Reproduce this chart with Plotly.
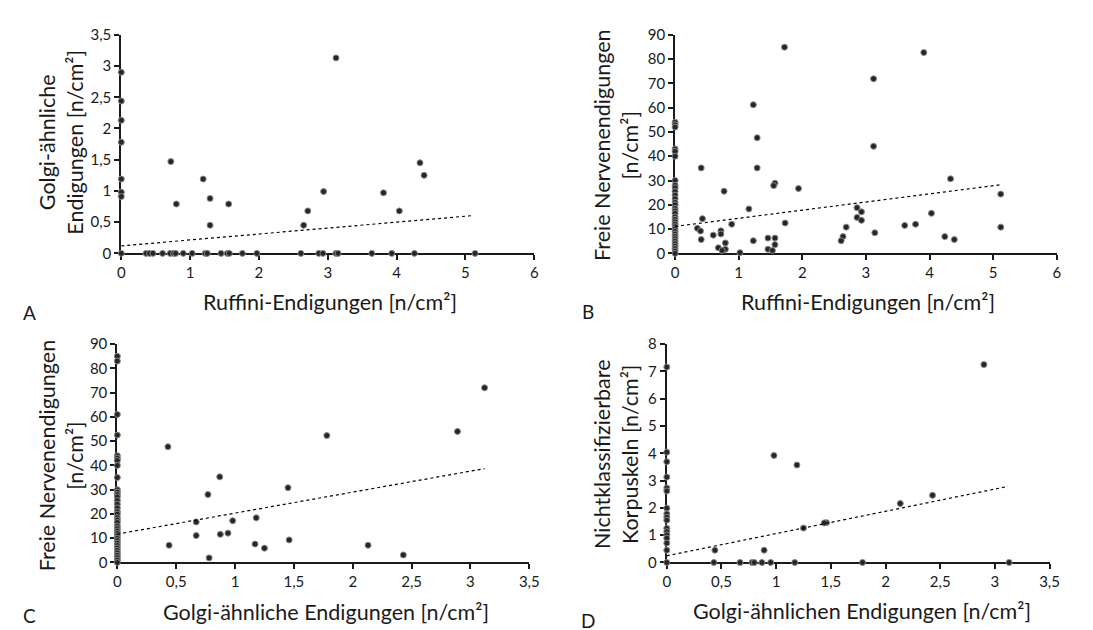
import plotly.graph_objects as go

# ---------------- data ----------------
# Panel A: Ruffini (x) vs Golgi-ähnliche (y)
a_x = [0, 0, 0, 0, 0, 0, 0, 0.72, 0.80, 1.19, 1.29, 1.29, 1.56, 2.65, 2.71, 2.94, 3.12, 3.81, 4.04, 4.34, 4.40,
       0, 0.36, 0.41, 0.46, 0.60, 0.71, 0.76, 0.79, 0.90, 1.03, 1.22, 1.25, 1.45, 1.54, 1.57, 1.76, 1.97,
       2.61, 2.87, 2.93, 3.12, 3.15, 3.64, 3.93, 4.26, 5.14]
a_y = [2.90, 2.44, 2.13, 1.78, 1.19, 0.98, 0.91, 1.47, 0.79, 1.19, 0.88, 0.45, 0.79, 0.45, 0.68, 0.99, 3.13, 0.97, 0.68, 1.45, 1.25,
       0, 0, 0, 0, 0, 0, 0, 0, 0, 0, 0, 0, 0, 0, 0, 0, 0,
       0, 0, 0, 0, 0, 0, 0, 0, 0]

# Panel B: Ruffini (x) vs Freie Nervenendigungen (y)
b_x = [1.72, 3.91, 3.12, 1.23, 1.29, 3.12, 0.41, 1.29, 4.33, 1.57, 1.55, 1.94, 0.77, 5.12, 2.86, 1.16, 2.93, 4.03,
       2.86, 0.43, 2.93, 1.73, 0.89, 3.78, 3.61, 2.69, 5.12, 0.35, 0.40, 0.72, 0.72, 3.14, 0.60, 2.64, 4.24, 1.46,
       1.57, 0.41, 1.23, 4.39, 2.61, 0.79, 1.57, 0.68, 0.79, 1.46, 0.74, 1.53, 1.02,
       0, 0, 0, 0, 0, 0, 0, 0, 0, 0, 0, 0, 0, 0, 0, 0, 0, 0, 0, 0, 0, 0, 0, 0, 0, 0, 0, 0, 0, 0, 0, 0, 0]
b_y = [84.9, 82.7, 71.9, 61.2, 47.6, 44.1, 35.2, 35.2, 30.7, 28.9, 27.9, 26.7, 25.6, 24.4, 18.8, 18.3, 17.1, 16.5,
       14.8, 14.3, 13.6, 12.5, 12.0, 12.0, 11.5, 10.8, 10.8, 10.3, 9.2, 9.3, 8.0, 8.5, 7.5, 6.9, 6.9, 6.3,
       6.3, 5.7, 5.2, 5.7, 5.2, 4.3, 3.6, 2.3, 1.7, 1.7, 1.2, 1.2, 0.3,
       54.0, 53.0, 52.0, 43.0, 42.0, 40.0, 30.0, 28.0, 27.0, 25.5, 24.0, 22.5, 21.0, 20.0, 18.5, 17.5, 16.5,
       15.0, 14.0, 13.0, 12.0, 11.0, 10.0, 9.0, 8.0, 7.0, 6.0, 5.0, 4.0, 3.0, 2.0, 1.0, 0.0]

# Panel C: Golgi-ähnliche (x) vs Freie Nervenendigungen (y)
c_x = [3.12, 2.89, 1.78, 0.43, 0.87, 1.45, 0.77, 1.18, 0.67, 0.98, 0.94, 0.875, 0.67, 1.46, 1.17, 0.44, 2.13, 1.25,
       2.43, 0.78,
       0, 0, 0, 0, 0, 0, 0, 0, 0, 0, 0, 0, 0, 0, 0, 0, 0, 0, 0, 0, 0, 0, 0, 0, 0, 0, 0, 0, 0, 0, 0, 0, 0, 0, 0, 0, 0]
c_y = [72.0, 54.0, 52.3, 47.7, 35.3, 30.8, 28.0, 18.4, 16.7, 17.2, 12.1, 11.6, 11.1, 9.3, 7.6, 7.1, 7.1, 5.9,
       3.1, 1.9,
       85.0, 83.0, 61.0, 52.5, 44.0, 43.0, 42.0, 40.0, 35.0, 30.0, 29.0, 28.0, 27.0, 25.5, 24.0, 22.5, 21.0, 20.0,
       18.5, 17.5, 16.5, 15.0, 14.0, 13.0, 12.0, 11.0, 10.0, 9.0, 8.0, 7.0, 6.0, 5.0, 4.0, 3.0, 2.0, 1.0, 0.0]

# Panel D: Golgi-ähnliche (x) vs Nichtklassifizierbare Korpuskeln (y)
d_x = [2.90, 0.98, 1.19, 2.43, 2.135, 1.46, 1.44, 1.25, 0.44, 0.89,
       0.43, 0.67, 0.78, 0.80, 0.87, 0.95, 1.17, 1.79, 3.13,
       0, 0, 0, 0, 0, 0, 0, 0, 0, 0, 0, 0, 0, 0, 0, 0, 0]
d_y = [7.25, 3.92, 3.57, 2.46, 2.16, 1.46, 1.45, 1.26, 0.45, 0.45,
       0, 0, 0, 0, 0, 0, 0, 0, 0,
       7.16, 4.04, 3.69, 3.13, 2.73, 2.62, 1.99, 1.78, 1.66, 1.55, 1.25, 1.13, 1.01, 0.89, 0.71, 0.45, 0.0]

# linear trendlines (intercept, slope, x-range)
trend_a = dict(b0=0.12, b1=0.095, x=[0.0, 5.12])
trend_b = dict(b0=11.1, b1=3.35, x=[0.0, 5.12])
trend_c = dict(b0=11.7, b1=8.65, x=[0.0, 3.12])
trend_d = dict(b0=0.245, b1=0.815, x=[0.0, 3.12])

x_ticks_ruffini = [0, 1, 2, 3, 4, 5, 6]
x_ticks_golgi = [0, 0.5, 1, 1.5, 2, 2.5, 3, 3.5]
y_ticks_a = [0, 0.5, 1, 1.5, 2, 2.5, 3, 3.5]
y_ticks_freie = [0, 10, 20, 30, 40, 50, 60, 70, 80, 90]
y_ticks_d = [0, 1, 2, 3, 4, 5, 6, 7, 8]

x_titles = ["Ruffini-Endigungen [n/cm²]", "Ruffini-Endigungen [n/cm²]",
            "Golgi-ähnliche Endigungen [n/cm²]", "Golgi-ähnlichen Endigungen [n/cm²]"]
y_titles = ["Golgi-ähnliche<br>Endigungen [n/cm²]", "Freie Nervenendigungen<br>[n/cm²]",
            "Freie Nervenendigungen<br>[n/cm²]", "Nichtklassifizierbare<br>Korpuskeln [n/cm²]"]
panel_letters = ["A", "B", "C", "D"]

# ---------------- figure ----------------
FONT = "Lato"
TXT = "#1a1a1a"
fig = go.Figure()

panels = [
    (a_x, a_y, trend_a, "x", "y"),
    (b_x, b_y, trend_b, "x2", "y2"),
    (c_x, c_y, trend_c, "x3", "y3"),
    (d_x, d_y, trend_d, "x4", "y4"),
]
for px, py, tr, xa, ya in panels:
    fig.add_trace(go.Scatter(
        x=px, y=py, mode="markers", xaxis=xa, yaxis=ya, cliponaxis=False,
        marker=dict(size=6, color="#262626", line=dict(width=1, color="#8a8a8a")),
        showlegend=False, hoverinfo="x+y"))
    tx = tr["x"]
    ty = [tr["b0"] + tr["b1"] * v for v in tx]
    fig.add_trace(go.Scatter(
        x=tx, y=ty, mode="lines", xaxis=xa, yaxis=ya,
        line=dict(color="#000000", width=1.2, dash="dot"),
        showlegend=False, hoverinfo="skip"))

W, H = 1093, 630
def fx(p):
    return p / W
def fy(p):
    return 1 - p / H

def axis(domain, anchor, ticks, rng):
    return dict(domain=domain, anchor=anchor, range=rng, tickvals=ticks,
                showline=True, linecolor="#1a1a1a", linewidth=2, showgrid=False, zeroline=False,
                ticks="outside", ticklen=5, tickwidth=1.5, tickcolor="#1a1a1a",
                tickfont=dict(family=FONT, size=15, color=TXT), layer="below traces", fixedrange=True)

yA = [fy(242.3), fy(17.3)]
yC = [fy(560.5), fy(335.7)]
fig.update_layout(
    width=W, height=H, margin=dict(l=0, r=0, t=0, b=0),
    paper_bgcolor="white", plot_bgcolor="white", separators=", ",
    font=dict(family=FONT, color=TXT),
    xaxis=axis([fx(110.7), fx(529)], "y", x_ticks_ruffini, [0, 6]),
    yaxis=axis(yA, "x", y_ticks_a, [0, 3.5]),
    xaxis2=axis([fx(671.7), fx(1058.3)], "y2", x_ticks_ruffini, [0, 6]),
    yaxis2=axis(yA, "x2", y_ticks_freie, [0, 90]),
    xaxis3=axis([fx(106.7), fx(524)], "y3", x_ticks_golgi, [0, 3.5]),
    yaxis3=axis(yC, "x3", y_ticks_freie, [0, 90]),
    xaxis4=axis([fx(663.3), fx(1051)], "y4", x_ticks_golgi, [0, 3.5]),
    yaxis4=axis(yC, "x4", y_ticks_d, [0, 8]),
)

annos = []
xt_pos = [(322.5, 292.7), (867.5, 292.7), (318.3, 611.7), (860.8, 610)]
yt_pos = [(50, 128), (611.7, 130.8), (50, 450.8), (611.7, 449)]
lt_pos = [(18, 303), (583, 302), (18, 615), (583, 620)]
for i in range(4):
    annos.append(dict(text=x_titles[i], x=fx(xt_pos[i][0]), y=fy(xt_pos[i][1]), xref="paper", yref="paper",
                      showarrow=False, xanchor="center", yanchor="middle",
                      font=dict(family=FONT, size=21.5, color=TXT)))
    annos.append(dict(text=y_titles[i], x=fx(yt_pos[i][0]), y=fy(yt_pos[i][1]), xref="paper", yref="paper",
                      showarrow=False, xanchor="center", yanchor="middle", textangle=-90,
                      font=dict(family=FONT, size=21.5, color=TXT)))
    annos.append(dict(text=panel_letters[i], x=fx(lt_pos[i][0]), y=fy(lt_pos[i][1]), xref="paper", yref="paper",
                      showarrow=False, xanchor="center", yanchor="middle",
                      font=dict(family=FONT, size=19, color=TXT)))
fig.update_layout(annotations=annos)

fig.write_html("out.html")
